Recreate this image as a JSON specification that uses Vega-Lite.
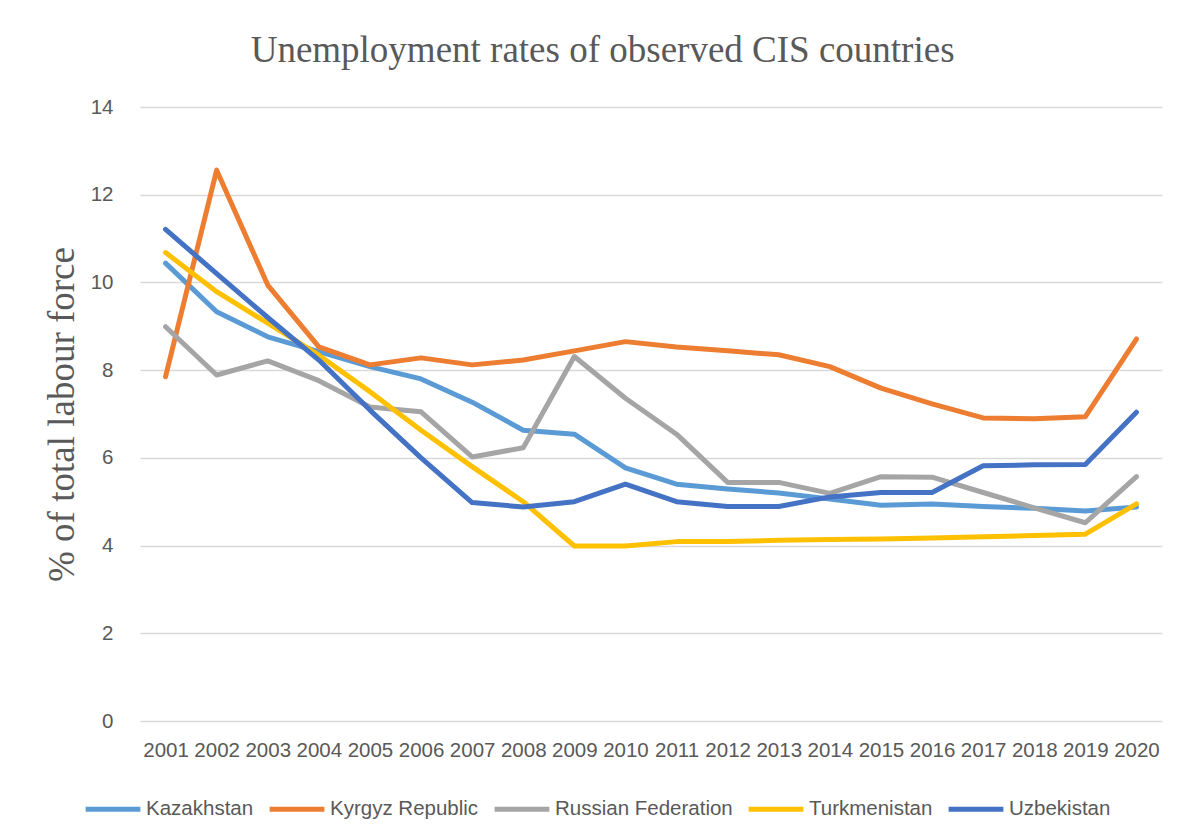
{
  "$schema": "https://vega.github.io/schema/vega-lite/v6.json",
  "width": 1022,
  "height": 614,
  "autosize": "none",
  "padding": {"left": 140, "top": 107, "right": 15, "bottom": 115},
  "background": "white",
  "config": {"view": {"stroke": null}},
  "title": {
    "text": "Unemployment rates of observed CIS countries",
    "font": "Liberation Serif",
    "fontSize": 37,
    "fontWeight": "normal",
    "color": "#595959",
    "anchor": "middle",
    "frame": "bounds",
    "offset": 27
  },
  "data": {
    "values": [
      {"year": "2001", "country": "Kazakhstan", "value": 10.44},
      {"year": "2002", "country": "Kazakhstan", "value": 9.33},
      {"year": "2003", "country": "Kazakhstan", "value": 8.76},
      {"year": "2004", "country": "Kazakhstan", "value": 8.42},
      {"year": "2005", "country": "Kazakhstan", "value": 8.08},
      {"year": "2006", "country": "Kazakhstan", "value": 7.8},
      {"year": "2007", "country": "Kazakhstan", "value": 7.27},
      {"year": "2008", "country": "Kazakhstan", "value": 6.63},
      {"year": "2009", "country": "Kazakhstan", "value": 6.54},
      {"year": "2010", "country": "Kazakhstan", "value": 5.77},
      {"year": "2011", "country": "Kazakhstan", "value": 5.4},
      {"year": "2012", "country": "Kazakhstan", "value": 5.29},
      {"year": "2013", "country": "Kazakhstan", "value": 5.2},
      {"year": "2014", "country": "Kazakhstan", "value": 5.06},
      {"year": "2015", "country": "Kazakhstan", "value": 4.92},
      {"year": "2016", "country": "Kazakhstan", "value": 4.95},
      {"year": "2017", "country": "Kazakhstan", "value": 4.89},
      {"year": "2018", "country": "Kazakhstan", "value": 4.85},
      {"year": "2019", "country": "Kazakhstan", "value": 4.79},
      {"year": "2020", "country": "Kazakhstan", "value": 4.88},
      {"year": "2001", "country": "Kyrgyz Republic", "value": 7.85},
      {"year": "2002", "country": "Kyrgyz Republic", "value": 12.56},
      {"year": "2003", "country": "Kyrgyz Republic", "value": 9.94},
      {"year": "2004", "country": "Kyrgyz Republic", "value": 8.53},
      {"year": "2005", "country": "Kyrgyz Republic", "value": 8.12},
      {"year": "2006", "country": "Kyrgyz Republic", "value": 8.28},
      {"year": "2007", "country": "Kyrgyz Republic", "value": 8.12},
      {"year": "2008", "country": "Kyrgyz Republic", "value": 8.23},
      {"year": "2009", "country": "Kyrgyz Republic", "value": 8.44},
      {"year": "2010", "country": "Kyrgyz Republic", "value": 8.65},
      {"year": "2011", "country": "Kyrgyz Republic", "value": 8.53},
      {"year": "2012", "country": "Kyrgyz Republic", "value": 8.44},
      {"year": "2013", "country": "Kyrgyz Republic", "value": 8.35},
      {"year": "2014", "country": "Kyrgyz Republic", "value": 8.08},
      {"year": "2015", "country": "Kyrgyz Republic", "value": 7.59},
      {"year": "2016", "country": "Kyrgyz Republic", "value": 7.23},
      {"year": "2017", "country": "Kyrgyz Republic", "value": 6.91},
      {"year": "2018", "country": "Kyrgyz Republic", "value": 6.89},
      {"year": "2019", "country": "Kyrgyz Republic", "value": 6.94},
      {"year": "2020", "country": "Kyrgyz Republic", "value": 8.71},
      {"year": "2001", "country": "Russian Federation", "value": 8.99},
      {"year": "2002", "country": "Russian Federation", "value": 7.89},
      {"year": "2003", "country": "Russian Federation", "value": 8.21},
      {"year": "2004", "country": "Russian Federation", "value": 7.76},
      {"year": "2005", "country": "Russian Federation", "value": 7.16},
      {"year": "2006", "country": "Russian Federation", "value": 7.05},
      {"year": "2007", "country": "Russian Federation", "value": 6.02},
      {"year": "2008", "country": "Russian Federation", "value": 6.23},
      {"year": "2009", "country": "Russian Federation", "value": 8.31},
      {"year": "2010", "country": "Russian Federation", "value": 7.36},
      {"year": "2011", "country": "Russian Federation", "value": 6.54},
      {"year": "2012", "country": "Russian Federation", "value": 5.44},
      {"year": "2013", "country": "Russian Federation", "value": 5.44},
      {"year": "2014", "country": "Russian Federation", "value": 5.19},
      {"year": "2015", "country": "Russian Federation", "value": 5.57},
      {"year": "2016", "country": "Russian Federation", "value": 5.56},
      {"year": "2017", "country": "Russian Federation", "value": 5.21},
      {"year": "2018", "country": "Russian Federation", "value": 4.86},
      {"year": "2019", "country": "Russian Federation", "value": 4.52},
      {"year": "2020", "country": "Russian Federation", "value": 5.57},
      {"year": "2001", "country": "Turkmenistan", "value": 10.68},
      {"year": "2002", "country": "Turkmenistan", "value": 9.79},
      {"year": "2003", "country": "Turkmenistan", "value": 9.07},
      {"year": "2004", "country": "Turkmenistan", "value": 8.34},
      {"year": "2005", "country": "Turkmenistan", "value": 7.51},
      {"year": "2006", "country": "Turkmenistan", "value": 6.63},
      {"year": "2007", "country": "Turkmenistan", "value": 5.8},
      {"year": "2008", "country": "Turkmenistan", "value": 5.0},
      {"year": "2009", "country": "Turkmenistan", "value": 3.99},
      {"year": "2010", "country": "Turkmenistan", "value": 3.99},
      {"year": "2011", "country": "Turkmenistan", "value": 4.09},
      {"year": "2012", "country": "Turkmenistan", "value": 4.09},
      {"year": "2013", "country": "Turkmenistan", "value": 4.12},
      {"year": "2014", "country": "Turkmenistan", "value": 4.14},
      {"year": "2015", "country": "Turkmenistan", "value": 4.15},
      {"year": "2016", "country": "Turkmenistan", "value": 4.17},
      {"year": "2017", "country": "Turkmenistan", "value": 4.2},
      {"year": "2018", "country": "Turkmenistan", "value": 4.23},
      {"year": "2019", "country": "Turkmenistan", "value": 4.26},
      {"year": "2020", "country": "Turkmenistan", "value": 4.95},
      {"year": "2001", "country": "Uzbekistan", "value": 11.21},
      {"year": "2002", "country": "Uzbekistan", "value": 10.2},
      {"year": "2003", "country": "Uzbekistan", "value": 9.2},
      {"year": "2004", "country": "Uzbekistan", "value": 8.23},
      {"year": "2005", "country": "Uzbekistan", "value": 7.09},
      {"year": "2006", "country": "Uzbekistan", "value": 6.0},
      {"year": "2007", "country": "Uzbekistan", "value": 4.98},
      {"year": "2008", "country": "Uzbekistan", "value": 4.88},
      {"year": "2009", "country": "Uzbekistan", "value": 5.0},
      {"year": "2010", "country": "Uzbekistan", "value": 5.4},
      {"year": "2011", "country": "Uzbekistan", "value": 5.0},
      {"year": "2012", "country": "Uzbekistan", "value": 4.89},
      {"year": "2013", "country": "Uzbekistan", "value": 4.89},
      {"year": "2014", "country": "Uzbekistan", "value": 5.11},
      {"year": "2015", "country": "Uzbekistan", "value": 5.21},
      {"year": "2016", "country": "Uzbekistan", "value": 5.21},
      {"year": "2017", "country": "Uzbekistan", "value": 5.82},
      {"year": "2018", "country": "Uzbekistan", "value": 5.84},
      {"year": "2019", "country": "Uzbekistan", "value": 5.85},
      {"year": "2020", "country": "Uzbekistan", "value": 7.04}
    ]
  },
  "mark": {"type": "line", "strokeWidth": 5, "strokeCap": "round", "strokeJoin": "round"},
  "encoding": {
    "x": {
      "field": "year",
      "type": "ordinal",
      "scale": {"type": "point", "padding": 0.5},
      "axis": {
        "title": null,
        "labelAngle": 0,
        "labelOverlap": false,
        "domain": false,
        "ticks": false,
        "labelPadding": 19,
        "labelFont": "Liberation Sans",
        "labelFontSize": 20.5,
        "labelColor": "#595959"
      }
    },
    "y": {
      "field": "value",
      "type": "quantitative",
      "scale": {"domain": [0, 14], "nice": false},
      "axis": {
        "values": [0, 2, 4, 6, 8, 10, 12, 14],
        "title": "% of total labour force",
        "titleFont": "Liberation Serif",
        "titleFontSize": 37,
        "titleFontWeight": "normal",
        "titleColor": "#595959",
        "titlePadding": 9,
        "domain": false,
        "ticks": false,
        "grid": true,
        "gridColor": "#d9d9d9",
        "gridWidth": 1.3,
        "labelPadding": 27,
        "labelFont": "Liberation Sans",
        "labelFontSize": 20.5,
        "labelColor": "#595959"
      }
    },
    "color": {
      "field": "country",
      "type": "nominal",
      "scale": {
        "domain": ["Kazakhstan", "Kyrgyz Republic", "Russian Federation", "Turkmenistan", "Uzbekistan"],
        "range": ["#5B9BD5", "#ED7D31", "#A5A5A5", "#FFC000", "#4472C4"]
      },
      "legend": {
        "title": null,
        "orient": "none",
        "legendX": -57,
        "legendY": 672,
        "direction": "horizontal",
        "symbolType": "stroke",
        "symbolSize": 3000,
        "symbolStrokeWidth": 5,
        "labelFont": "Liberation Sans",
        "labelFontSize": 20.5,
        "labelLimit": 400,
        "labelColor": "#595959",
        "labelOffset": 3,
        "columnPadding": 5
      }
    }
  }
}
